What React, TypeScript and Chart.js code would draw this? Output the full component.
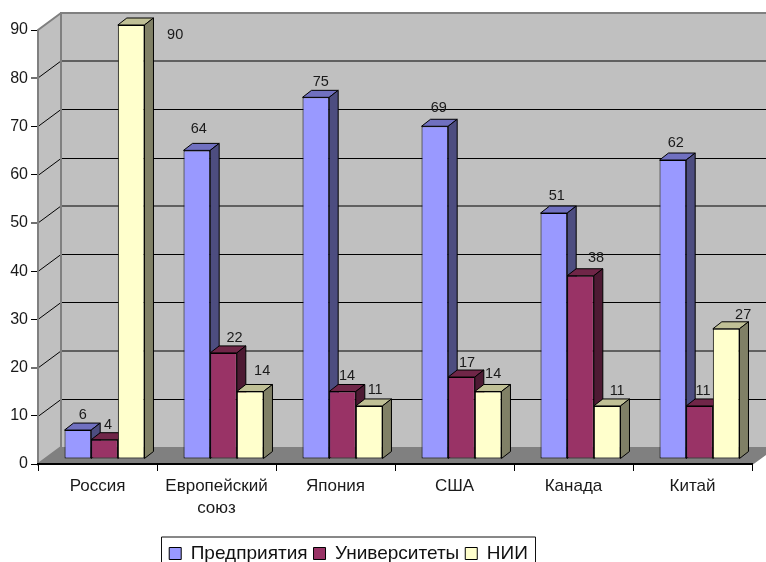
import React, { useEffect, useRef } from "react";
import { Chart, registerables } from "chart.js";

Chart.register(...registerables);

const categories: (string | string[])[] = ["Россия", ["Европейский", "союз"], "Япония", "США", "Канада", "Китай"];
const enterprises = [6, 64, 75, 69, 51, 62];
const universities = [4, 22, 14, 17, 38, 11];
const institutes = [90, 14, 11, 14, 11, 27];
const seriesNames = ["Предприятия", "Университеты", "НИИ"];
const frontColors = ["#9999FF", "#993366", "#FFFFCC"];
const topColors = ["#7070C0", "#702648", "#C0C096"];
const sideColors = ["#4D4D80", "#4D1A33", "#808066"];
const yTicks = [0, 10, 20, 30, 40, 50, 60, 70, 80, 90];

const labelNudges: number[][][] = [
  [[5, -15], [2, -21], [5, -15], [4, -18], [3, -17], [3, -17]],
  [[3.5, -15], [11, -15], [4.5, -15], [5.5, -14], [15.5, -18], [3.5, -15]],
  [[44, 10], [12, -20], [6, -16], [5, -17.5], [10, -15], [17, -14]],
];

const WALL_DX = 23;
const WALL_DY = -17;
const BAR_SHIFT_X = 7;
const BAR_SHIFT_Y = -5;
const BAR_DX = 9;
const BAR_DY = -7;

const isSoftLine = (t: number) => t % 30 === 20;

const poly = (ctx: CanvasRenderingContext2D, pts: number[][], fill?: string, stroke?: string, w = 1) => {
  ctx.beginPath();
  pts.forEach((p, i) => (i ? ctx.lineTo(p[0], p[1]) : ctx.moveTo(p[0], p[1])));
  ctx.closePath();
  if (fill) {
    ctx.fillStyle = fill;
    ctx.fill();
  }
  if (stroke) {
    ctx.strokeStyle = stroke;
    ctx.lineWidth = w;
    ctx.stroke();
  }
};

const drawWalls = (chart: any) => {
  const { ctx, chartArea: a, scales } = chart;
  const y = scales.y;
  const zero = y.getPixelForValue(0);
  const top = y.getPixelForValue(90);
  ctx.save();
  poly(ctx, [[a.left, zero], [a.left + WALL_DX, zero + WALL_DY], [a.left + WALL_DX, top + WALL_DY], [a.left, top]], "#C0C0C0");
  poly(ctx, [[a.left + WALL_DX, top + WALL_DY], [a.right + WALL_DX, top + WALL_DY], [a.right + WALL_DX, zero + WALL_DY], [a.left + WALL_DX, zero + WALL_DY]], "#C0C0C0");
  poly(ctx, [[a.left, zero], [a.right, zero], [a.right + WALL_DX, zero + WALL_DY], [a.left + WALL_DX, zero + WALL_DY]], "#808080");
  ctx.lineWidth = 1;
  ctx.strokeStyle = "#000";
  yTicks.forEach((t) => {
    if (t === 0 || t === 90) return;
    const base = Math.round(y.getPixelForValue(t));
    const py = isSoftLine(t) ? base : base + 0.5;
    ctx.beginPath();
    ctx.moveTo(a.left, py);
    ctx.lineTo(a.left + WALL_DX, py + WALL_DY);
    ctx.lineTo(a.right + WALL_DX, py + WALL_DY);
    ctx.stroke();
  });
  ctx.strokeStyle = "#808080";
  ctx.lineWidth = 2;
  ctx.beginPath();
  ctx.moveTo(a.left + WALL_DX, zero + WALL_DY);
  ctx.lineTo(a.left + WALL_DX, top + WALL_DY);
  ctx.lineTo(a.right + WALL_DX, top + WALL_DY);
  ctx.moveTo(a.left + WALL_DX, top + WALL_DY);
  ctx.lineTo(a.left, top);
  ctx.lineTo(a.left, zero);
  ctx.lineTo(a.left + WALL_DX, zero + WALL_DY);
  ctx.moveTo(a.right, zero);
  ctx.lineTo(a.right + WALL_DX, zero + WALL_DY);
  ctx.stroke();
  ctx.restore();
};

const drawBars = (chart: any) => {
  const { ctx } = chart;
  chart.data.datasets.forEach((_: any, i: number) => {
    const meta = chart.getDatasetMeta(i);
    ctx.save();
    ctx.translate(BAR_SHIFT_X, BAR_SHIFT_Y);
    meta.data.forEach((bar: any) => {
      const l = bar.x - bar.width / 2;
      const r = bar.x + bar.width / 2;
      const t = bar.y;
      const b = bar.base;
      poly(ctx, [[l, t], [l + BAR_DX, t + BAR_DY], [r + BAR_DX, t + BAR_DY], [r, t]], topColors[i], "#000");
      poly(ctx, [[r, t], [r + BAR_DX, t + BAR_DY], [r + BAR_DX, b + BAR_DY], [r, b]], sideColors[i], "#000");
    });
    meta.controller.draw();
    ctx.restore();
  });
};

const drawValueLabels = (chart: any) => {
  const { ctx } = chart;
  ctx.save();
  ctx.font = "14.5px 'Liberation Sans'";
  ctx.fillStyle = "#1a1a1a";
  ctx.textAlign = "center";
  ctx.textBaseline = "middle";
  chart.data.datasets.forEach((ds: any, i: number) => {
    chart.getDatasetMeta(i).data.forEach((bar: any, j: number) => {
      const n = labelNudges[i][j];
      ctx.fillText(String(ds.data[j]), bar.x + BAR_SHIFT_X + n[0], bar.y + BAR_SHIFT_Y + n[1]);
    });
  });
  ctx.restore();
};

const scene3d = {
  id: "scene3d",
  beforeDatasetsDraw(chart: any) {
    drawWalls(chart);
    drawBars(chart);
    drawValueLabels(chart);
    return false;
  },
};

const legendFrame = {
  id: "legendFrame",
  afterLayout(chart: any) {
    const lg = chart.legend;
    lg.left = 161.5;
    lg.right = 535.5;
    lg.top = 538;
    lg.bottom = 562;
  },
  afterDraw(chart: any) {
    const { ctx, legend: lg } = chart;
    ctx.save();
    ctx.strokeStyle = "#111";
    ctx.lineWidth = 1;
    ctx.beginPath();
    ctx.moveTo(lg.left, 562);
    ctx.lineTo(lg.left, 537);
    ctx.lineTo(lg.right, 537);
    ctx.lineTo(lg.right, 562);
    ctx.stroke();
    ctx.restore();
  },
};

export default function App() {
  const ref = useRef<HTMLCanvasElement>(null);
  useEffect(() => {
    const chart = new Chart(ref.current as HTMLCanvasElement, {
      type: "bar",
      data: {
        labels: categories as any,
        datasets: [enterprises, universities, institutes].map((d, i) => ({
          label: seriesNames[i],
          data: d,
          backgroundColor: frontColors[i],
          borderColor: "#000",
          borderWidth: 1,
          borderSkipped: false,
          categoryPercentage: 0.672,
          barPercentage: 1,
        })) as any,
      },
      plugins: [scene3d, legendFrame] as any,
      options: {
        responsive: false,
        animation: false,
        layout: { padding: { left: 0, right: 14, top: 30, bottom: 0 } },
        plugins: {
          tooltip: { enabled: false },
          title: { display: false },
          legend: {
            position: "bottom",
            labels: {
              boxWidth: 12,
              boxHeight: 12,
              padding: 6,
              color: "#111",
              font: { family: "'Liberation Sans'", size: 19 },
            },
          },
        },
        scales: {
          x: {
            grid: { drawOnChartArea: false, drawTicks: true, tickLength: 7, color: "#000", offset: true },
            border: { color: "#000", width: 2, z: 1 },
            ticks: {
              maxRotation: 0,
              minRotation: 0,
              color: "#1a1a1a",
              padding: 4,
              font: { family: "'Liberation Sans'", size: 17, lineHeight: 1.3 },
            },
            afterFit(s: any) {
              s.height = 63;
            },
          },
          y: {
            min: 0,
            max: 90,
            afterBuildTicks(s: any) {
              s.ticks = yTicks.map((value) => ({ value }));
            },
            grid: {
              drawOnChartArea: false,
              drawTicks: true,
              tickLength: 7,
              color: (c: any) => (isSoftLine(c.tick.value) ? "#707070" : "#000"),
              lineWidth: (c: any) => (isSoftLine(c.tick.value) ? 2 : 1),
            },
            border: { display: false },
            ticks: {
              color: "#1a1a1a",
              padding: 3,
              font: { family: "'Liberation Sans'", size: 16 },
            },
            afterFit(s: any) {
              s.width = 38;
            },
          },
        },
      } as any,
    });
    return () => chart.destroy();
  }, []);
  return (
    <canvas
      ref={ref}
      width={766}
      height={562}
      style={{ position: "absolute", left: 0, top: 0, width: 766, height: 562, background: "#fff" }}
    />
  );
}
